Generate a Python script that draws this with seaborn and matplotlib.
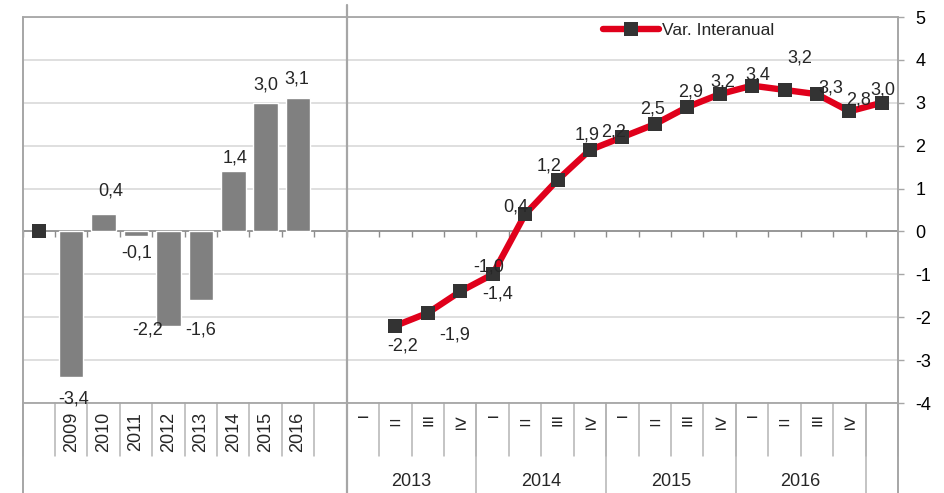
import numpy as np
import pandas as pd
import matplotlib
matplotlib.use('Agg')
import matplotlib.pyplot as plt
import matplotlib.transforms as mtransforms
import seaborn as sns

# ---------------- data ----------------
years = ['2009', '2010', '2011', '2012', '2013', '2014', '2015', '2016']
annual = [-3.4, 0.4, -0.1, -2.2, -1.6, 1.4, 3.0, 3.1]
start_value = [0.0]
quarter_years = ['2013', '2014', '2015', '2016']
quarter_marks = ['−', '=', '≡', '≥']          # quarter labels as rendered in the source
quarterly = [-2.2, -1.9, -1.4, -1.0, 0.4, 1.2, 1.9, 2.2,
             2.5, 2.9, 3.2, 3.4, 3.3, 3.2, 2.8, 3.0]
series_name = 'Var. Interanual'
yticks = [5, 4, 3, 2, 1, 0, -1, -2, -3, -4]

# ---------------- layout (category slots) ----------------
n_slots = 27
start_pos = [0]
bar_pos = np.arange(1, 1 + len(years))
qlabel_start = 10
qlabel_pos = np.arange(qlabel_start, qlabel_start + 4 * len(quarter_years))
line_pos = qlabel_pos + 1

# label offsets in pixels (dx right, dy down)
bar_dx = [2, 7, 1, -21, 0, 2, 0, -1]
bar_dy = [20, -25, 15, 2, 28, -15, -20, -21]
line_dx = [7, 27, 37, -4, -9, -8, -3, -9, -2, 3, 3, 6, 46, -17, 9, 1]
line_dy = [18, 20, 1, -9, -9, -16, -17, -7, -17, -17, -14, -13, -4, -38, -13, -15]

# ---------------- style ----------------
sns.set_style('white')
plt.rcParams['font.family'] = ['Liberation Sans', 'DejaVu Sans']
plt.rcParams['axes.unicode_minus'] = False
FS = 13
FS_LAB = 13
FS_LEG = 12.5

BAR = '#808080'
RED = '#E0001B'
MARK = '#333333'
GRID = '#D9D9D9'
BORDER = '#A6A6A6'
SEP = '#B4B4B4'

W, H = 944, 493
fig = plt.figure(figsize=(W / 100, H / 100), dpi=100)
ax = fig.add_axes([22.5 / W, 1 - 403 / H, (898 - 22.5) / W, 386 / H])


def fy(px):
    return 1 - px / H


df_bar = pd.DataFrame({'pos': bar_pos, 'value': annual})
sns.barplot(data=df_bar, x='pos', y='value', native_scale=True, width=0.76,
            color=BAR, saturation=1, errorbar=None, ax=ax, zorder=2)

df_line = pd.DataFrame({'pos': line_pos, 'value': quarterly})
sns.lineplot(data=df_line, x='pos', y='value', color=RED, linewidth=4.6,
             marker='s', markersize=9.5, markerfacecolor=MARK,
             markeredgecolor=MARK, markeredgewidth=0,
             solid_capstyle='round', solid_joinstyle='round',
             label=series_name, ax=ax, zorder=4)

sns.scatterplot(x=start_pos, y=start_value, marker='s', s=90, color=MARK,
                edgecolor=MARK, linewidth=0, ax=ax, zorder=5, legend=False)

ax.set_xlim(-0.5, n_slots - 0.5)
ax.set_ylim(min(yticks), max(yticks))
ax.set_xticks([])
ax.set_yticks(yticks)
ax.set_yticklabels([str(t) for t in yticks])
ax.set_xlabel('')
ax.set_ylabel('')
ax.yaxis.grid(True, color=GRID, lw=1.2)
ax.xaxis.grid(False)
ax.set_axisbelow(True)
ax.axhline(0, color='#8C8C8C', lw=1.2, zorder=1.5)

for s in ['left', 'right']:
    ax.spines[s].set_visible(False)
for s in ['top', 'bottom']:
    ax.spines[s].set_color(BORDER)
    ax.spines[s].set_linewidth(1.3)

ax.yaxis.tick_right()
ax.tick_params(axis='y', which='both', right=True, left=False,
               labelright=True, labelleft=False, direction='out',
               length=4.5, width=1, color=BORDER, pad=8, labelsize=FS,
               labelcolor='black')

# small ticks on zero line at slot boundaries
bounds = np.arange(-0.5, n_slots, 1.0)
ax.vlines(bounds, -0.14, 0, colors='#8C8C8C', lw=1, zorder=1.5)

blend = mtransforms.blended_transform_factory(ax.transData, fig.transFigure)

# category cell separators below the plot
for b in bounds:
    ax.plot([b, b], [fy(403), fy(456)], transform=blend, clip_on=False,
            color=SEP, lw=1.1)
group_bounds = [qlabel_start - 0.5 + 4 * i for i in range(len(quarter_years) + 1)]
for b in group_bounds[1:]:
    ax.plot([b, b], [fy(403), fy(493)], transform=blend, clip_on=False,
            color=SEP, lw=1.1)
# outer borders and section divider
for b in [-0.5, n_slots - 0.5]:
    ax.plot([b, b], [fy(17), fy(493)], transform=blend, clip_on=False,
            color=BORDER, lw=1.4)
ax.plot([group_bounds[0]] * 2, [fy(5), fy(493)], transform=blend,
        clip_on=False, color=BORDER, lw=1.6)

# category labels
for p, lab in zip(bar_pos, years):
    ax.text(p, fy(412), lab, transform=blend, rotation=90, ha='center',
            va='top', fontsize=FS)
nudge = {'−': 5}
for i, p in enumerate(qlabel_pos):
    m = quarter_marks[i % 4]
    ax.text(p, fy(424 - nudge.get(m, 0)), m, transform=blend, ha='center',
            va='center', fontsize=15)
for i, yl in enumerate(quarter_years):
    c = qlabel_start + 4 * i + 1.5
    ax.text(c, fy(482), yl, transform=blend, ha='center', va='center',
            fontsize=FS)


def fmt(v):
    return f'{v:.1f}'.replace('.', ',')


for p, v, dx, dy in zip(bar_pos, annual, bar_dx, bar_dy):
    ax.annotate(fmt(v), xy=(p, v), xytext=(dx, -(dy + 2)),
                textcoords='offset pixels', ha='center', va='center',
                fontsize=FS_LAB, zorder=6)
for p, v, dx, dy in zip(line_pos, quarterly, line_dx, line_dy):
    ax.annotate(fmt(v), xy=(p, v), xytext=(dx, -(dy + 2)),
                textcoords='offset pixels', ha='center', va='center',
                fontsize=FS_LAB, zorder=6)

ax.legend(loc='upper left', bbox_to_anchor=(603 / W, fy(23)),
          bbox_transform=fig.transFigure, frameon=False, fontsize=FS_LEG,
          handlelength=3.2, handletextpad=0.2, borderpad=0, borderaxespad=0)

fig.savefig('out.png', dpi=100)
